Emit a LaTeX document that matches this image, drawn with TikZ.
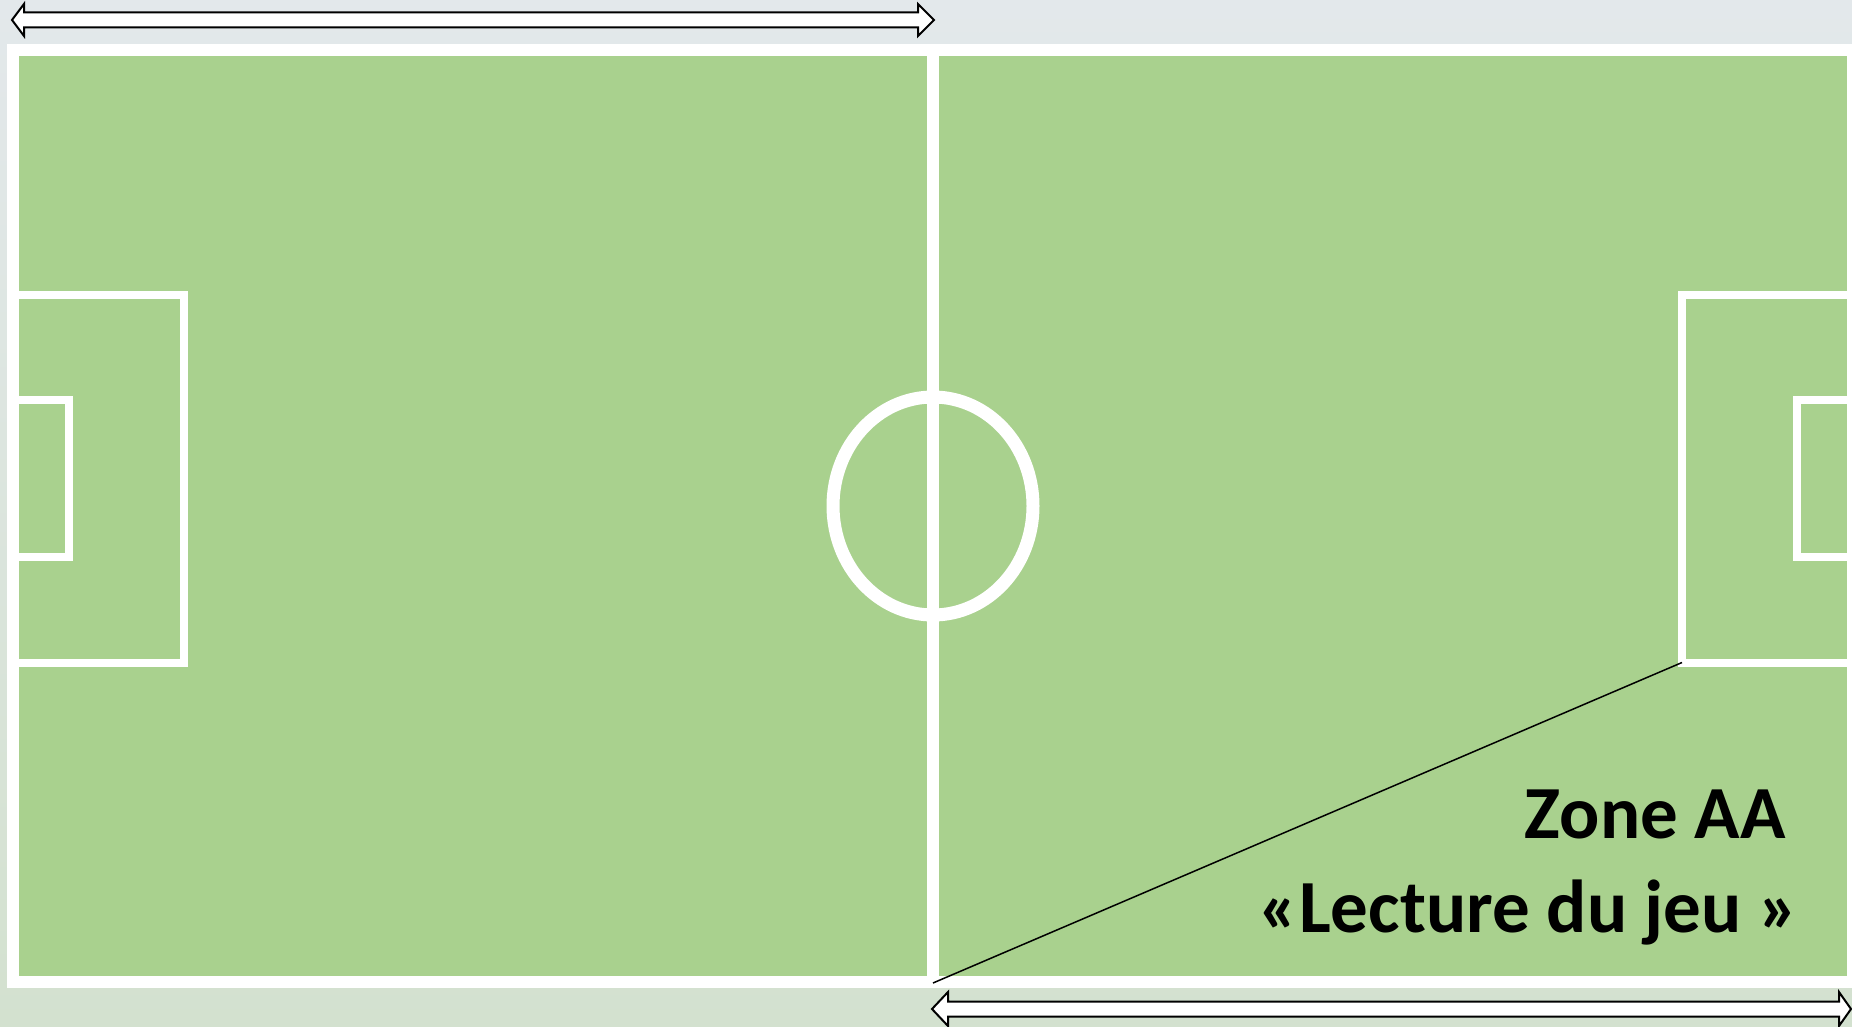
\documentclass[tikz,border=0pt]{standalone}
\usepackage{fontspec}
\setmainfont{Carlito}
\usepackage{xcolor}
\usetikzlibrary{positioning}
\definecolor{pitchgreen}{HTML}{A9D18E}
\definecolor{bgtop}{HTML}{E3E8EB}
\definecolor{bgmid}{HTML}{E6EAE6}
\definecolor{bgbot}{HTML}{D3E1CF}

\begin{document}
\begin{tikzpicture}[x=1pt, y=-1pt,
  frameline/.style={draw=white, line width=12pt},
  boxline/.style={draw=white, line width=8pt},
  blockarrow/.style={draw=black, fill=white, line width=2pt, line join=miter},
  lbl/.style={font=\fontsize{75}{90}\selectfont\bfseries, inner sep=0pt, text=black}]
  \useasboundingbox (0,0) rectangle (1852,1027);
  % blurred background
  \shade[top color=bgtop, middle color=bgmid, bottom color=bgbot] (0,0) rectangle (1852,1027);
  % pitch
  \filldraw[fill=pitchgreen, frameline] (13,50) rectangle (1853,982);
  \draw[frameline] (933,50) -- (933,982);
  \draw[white, line width=13pt] (933,506) ellipse [x radius=100, y radius=109];
  \draw[boxline] (13,294.5) -| (184,662.5) -- (13,662.5);
  \draw[boxline] (13,400) -| (69,556.7) -- (13,556.7);
  \draw[boxline] (1853,294.5) -| (1682,662.5) -- (1853,662.5);
  \draw[boxline] (1853,400) -| (1797,556.7) -- (1853,556.7);
  % zone AA
  \coordinate (midgoal) at (933,983);
  \coordinate (boxcorner) at (1682,662.5);
  \draw[black, line width=1.5pt] (midgoal) -- (boxcorner);
  \node[lbl, anchor=base east] (zone) at (1786,838.6) {Zone AA};
  \node[lbl, anchor=base east] (lecture) at (1799,932) {«Lecture du jeu »};
  % half-pitch arrows
  \draw[blockarrow] (12,20) -- (24,4) -- (24,12.5) -- (918,12.5) -- (918,4) -- (934,20)
    -- (918,36) -- (918,27.5) -- (24,27.5) -- (24,36) -- cycle;
  \draw[blockarrow] (932,1009) -- (948,992) -- (948,1001.5) -- (1839,1001.5) -- (1839,992) -- (1851,1009)
    -- (1839,1026) -- (1839,1016.5) -- (948,1016.5) -- (948,1026) -- cycle;
\end{tikzpicture}
\end{document}
